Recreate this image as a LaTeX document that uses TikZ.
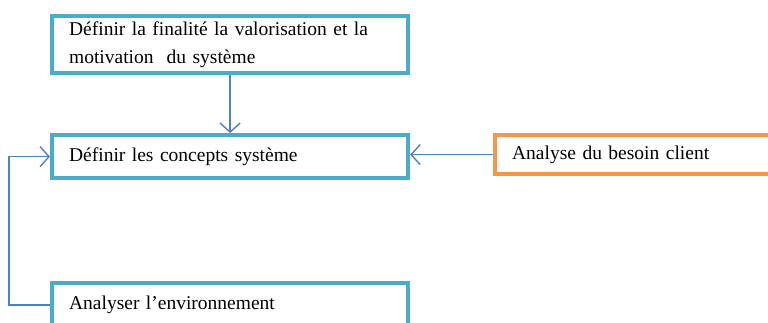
\documentclass[tikz,border=0pt]{standalone}
\usepackage{fontspec}
\setmainfont{Liberation Serif}
\usetikzlibrary{arrows.meta}
\definecolor{tealb}{HTML}{4BACC6}
\definecolor{orangeb}{HTML}{F79646}
\definecolor{arrowb}{HTML}{4F81BD}
\begin{document}
\begin{tikzpicture}[x=1pt,y=1pt,
  box/.style={draw=tealb,line width=4.2pt,rectangle,inner xsep=17pt,inner ysep=0pt,
    text width=322pt,align=left,font=\fontsize{19.5}{28.5}\selectfont,anchor=north west},
  obox/.style={box,draw=orangeb},
  conn/.style={draw=arrowb,line width=1.4pt,-{Straight Barb[length=9pt,width=20pt,line width=1.4pt]}}]
\useasboundingbox (0,0) rectangle (768,-322);
\clip (0,0) rectangle (768,-322);
\node[box,minimum height=57pt] (top) at (50,-14) {Définir la finalité la valorisation et la\\motivation \ du système};
\node[box,minimum height=43pt] (mid) at (50,-133) {Définir les concepts système};
\node[obox,minimum height=39pt,text width=340pt] (cli) at (493,-133) {Analyse du besoin client};
\node[box,minimum height=44pt] (env) at (50,-281) {Analyser l’environnement};
\coordinate (lx) at (9,0);
\draw[conn] (top.south) -- (mid.north);
\draw[conn] (cli.west) -- (cli.west -| mid.east);
\draw[conn] (env.west) -| (lx |- mid.west) -- (mid.west);
\end{tikzpicture}
\end{document}
